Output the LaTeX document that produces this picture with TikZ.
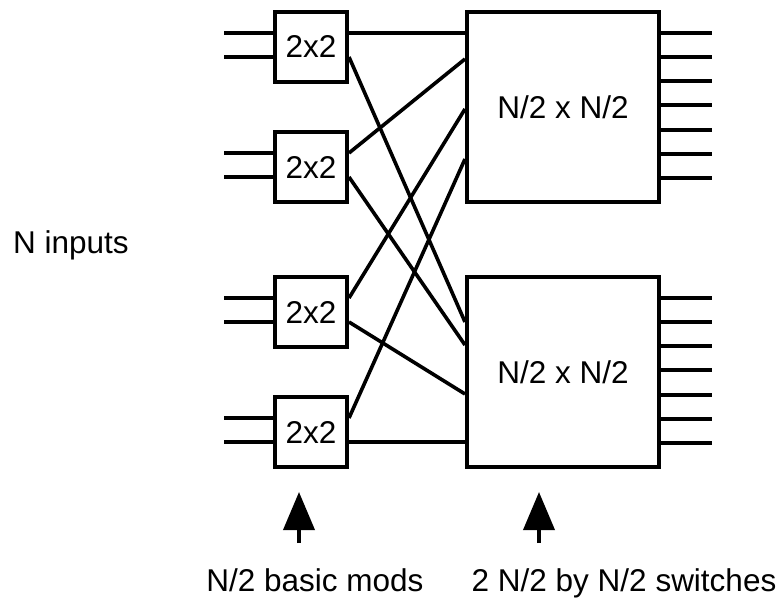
\documentclass[tikz,border=0pt]{standalone}
\usepackage{fontspec}
\setmainfont{Liberation Sans}
\usetikzlibrary{calc,arrows.meta}
\begin{document}
\begin{tikzpicture}[x=1pt,y=-1pt,
  every node/.style={font=\fontsize{31.5}{36}\selectfont},
  wire/.style={line width=3.6pt},
  smallbox/.style={draw,line width=4pt,minimum width=72pt,minimum height=70pt,inner sep=0pt},
  bigbox/.style={draw,line width=4pt,minimum width=192pt,minimum height=190pt,inner sep=0pt},
  label/.style={inner sep=0pt,anchor=base},
  pointer/.style={line width=3.8pt,-{Triangle[length=38pt,width=31pt]}}
]
\useasboundingbox (0,0) rectangle (781,597);

% basic 2x2 modules
\node[smallbox] (m1) at (311,47)  {2x2};
\node[smallbox] (m2) at (311,167) {2x2};
\node[smallbox] (m3) at (311,312) {2x2};
\node[smallbox] (m4) at (311,432) {2x2};

% N/2 x N/2 switches
\node[bigbox] (b1) at (563,107) {N/2 x N/2};
\node[bigbox] (b2) at (563,372) {N/2 x N/2};

% inputs
\foreach \m in {m1,m2,m3,m4}{
  \draw[wire] ($(\m.north west)+(-49,23)$) -- ($(\m.north west)+(0,23)$);
  \draw[wire] ($(\m.north west)+(-49,47)$) -- ($(\m.north west)+(0,47)$);
}

% outputs
\foreach \b in {b1,b2}{
  \foreach \k in {23,47,71,95,120,144,168}{
    \draw[wire] ($(\b.north east)+(0,\k)$) -- ($(\b.north east)+(51,\k)$);
  }
}

% shuffle connections
\draw[wire] ($(m1.north east)+(0,23)$) -- ($(b1.north west)+(0,23)$);
\draw[wire] ($(m1.north east)+(0,47)$) -- ($(b2.north west)+(0,47)$);
\draw[wire] ($(m2.north east)+(0,23)$) -- ($(b1.north west)+(0,49)$);
\draw[wire] ($(m2.north east)+(0,47)$) -- ($(b2.north west)+(0,70)$);
\draw[wire] ($(m3.north east)+(0,23)$) -- ($(b1.north west)+(0,99)$);
\draw[wire] ($(m3.north east)+(0,47)$) -- ($(b2.north west)+(0,119)$);
\draw[wire] ($(m4.north east)+(0,23)$) -- ($(b1.north west)+(0,149)$);
\draw[wire] ($(m4.north east)+(0,47)$) -- ($(b2.north west)+(0,167)$);

% labels
\node[label] (lin)  at (71,253)  {N inputs};
\node[label] (lmod) at (315,591) {N/2 basic mods};
\node[label] (lsw)  at (624,591) {2 N/2 by N/2 switches};

% pointers
\coordinate (p1) at (299,543);
\coordinate (p2) at (539,543);
\draw[pointer] (p1) -- ++(0,-51);
\draw[pointer] (p2) -- ++(0,-51);
\end{tikzpicture}
\end{document}
